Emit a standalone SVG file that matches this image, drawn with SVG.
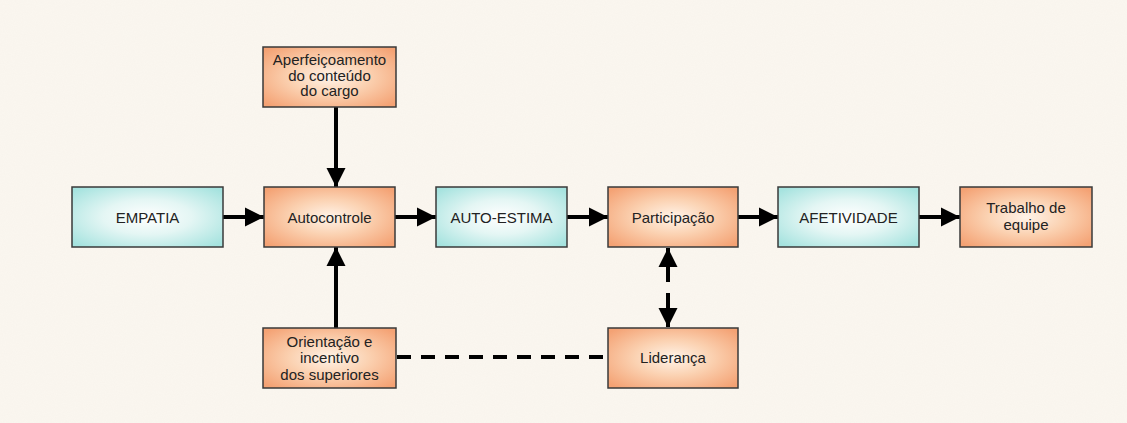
<svg xmlns="http://www.w3.org/2000/svg" width="1127" height="423" viewBox="0 0 1127 423">
  <defs>
    <radialGradient id="gCyan" cx="50%" cy="50%" r="65%">
      <stop offset="0" stop-color="#ffffff"/>
      <stop offset="0.45" stop-color="#e4f6f4"/>
      <stop offset="1" stop-color="#a6e3df"/>
    </radialGradient>
    <radialGradient id="gOrange" cx="50%" cy="50%" r="65%">
      <stop offset="0" stop-color="#fff3e8"/>
      <stop offset="0.45" stop-color="#fbd2b2"/>
      <stop offset="1" stop-color="#f4a274"/>
    </radialGradient>
    <filter id="grain" x="0" y="0" width="100%" height="100%">
      <feTurbulence type="fractalNoise" baseFrequency="0.9" numOctaves="2" seed="3" result="n"/>
      <feColorMatrix in="n" type="matrix" values="0 0 0 0 0.6  0 0 0 0 0.55  0 0 0 0 0.5  0 0 0 0.07 0"/>
    </filter>
    <marker id="arrow" viewBox="0 0 10 10" refX="10" refY="5" markerWidth="4.8" markerHeight="4.8" orient="auto-start-reverse" markerUnits="strokeWidth">
      <path d="M0,0 L10,5 L0,10 Z" fill="#000"/>
    </marker>
  </defs>
  <style>
    .cyan { fill: url(#gCyan); stroke: #3a3a3a; stroke-width: 1.5; }
    .orange { fill: url(#gOrange); stroke: #3a3a3a; stroke-width: 1.5; }
    text { font-family: "Liberation Sans", Arial, sans-serif; font-size: 15px; fill: #222; text-anchor: middle; }
    .conn { stroke: #000; stroke-width: 4; fill: none; }
    .dash { stroke-dasharray: 14 10; }
  </style>

  <!-- paper background -->
  <rect width="1127" height="423" fill="#fbf7f0"/>
  <rect width="1127" height="423" filter="url(#grain)"/>

  <!-- connectors -->
  <g id="connectors">
    <line class="conn" x1="223" y1="217" x2="264" y2="217" marker-end="url(#arrow)"/>
    <line class="conn" x1="395" y1="217" x2="436" y2="217" marker-end="url(#arrow)"/>
    <line class="conn" x1="567" y1="217" x2="608" y2="217" marker-end="url(#arrow)"/>
    <line class="conn" x1="738" y1="217" x2="778" y2="217" marker-end="url(#arrow)"/>
    <line class="conn" x1="919" y1="217" x2="960" y2="217" marker-end="url(#arrow)"/>
    <line class="conn" x1="336" y1="107" x2="336" y2="187" marker-end="url(#arrow)"/>
    <line class="conn" x1="336" y1="328" x2="336" y2="247" marker-end="url(#arrow)"/>
    <line class="conn" x1="668" y1="282" x2="668" y2="248" marker-end="url(#arrow)"/>
    <line class="conn" x1="668" y1="293" x2="668" y2="327" marker-end="url(#arrow)"/>
    <line class="conn dash" x1="397" y1="357" x2="608" y2="357"/>
  </g>

  <!-- nodes -->
  <g id="aperfeicoamento">
    <rect class="orange" x="263" y="47" width="133" height="60"/>
    <text x="329.5" y="65">Aperfeiçoamento</text>
    <text x="329.5" y="80.5">do conteúdo</text>
    <text x="329.5" y="96">do cargo</text>
  </g>
  <g id="empatia">
    <rect class="cyan" x="72" y="187" width="151" height="60"/>
    <text x="147.5" y="223">EMPATIA</text>
  </g>
  <g id="autocontrole">
    <rect class="orange" x="264" y="187" width="131" height="60"/>
    <text x="329.5" y="223">Autocontrole</text>
  </g>
  <g id="auto-estima">
    <rect class="cyan" x="436" y="187" width="131" height="60"/>
    <text x="501.5" y="223">AUTO-ESTIMA</text>
  </g>
  <g id="participacao">
    <rect class="orange" x="608" y="187" width="130" height="60"/>
    <text x="673" y="223">Participação</text>
  </g>
  <g id="afetividade">
    <rect class="cyan" x="778" y="187" width="141" height="60"/>
    <text x="848.5" y="223">AFETIVIDADE</text>
  </g>
  <g id="trabalho-equipe">
    <rect class="orange" x="960" y="187" width="132" height="60"/>
    <text x="1026" y="213">Trabalho de</text>
    <text x="1026" y="230">equipe</text>
  </g>
  <g id="orientacao">
    <rect class="orange" x="263" y="328" width="133" height="60"/>
    <text x="329.5" y="347">Orientação e</text>
    <text x="329.5" y="363">incentivo</text>
    <text x="329.5" y="380">dos superiores</text>
  </g>
  <g id="lideranca">
    <rect class="orange" x="608" y="328" width="130" height="60"/>
    <text x="673" y="363">Liderança</text>
  </g>
</svg>
